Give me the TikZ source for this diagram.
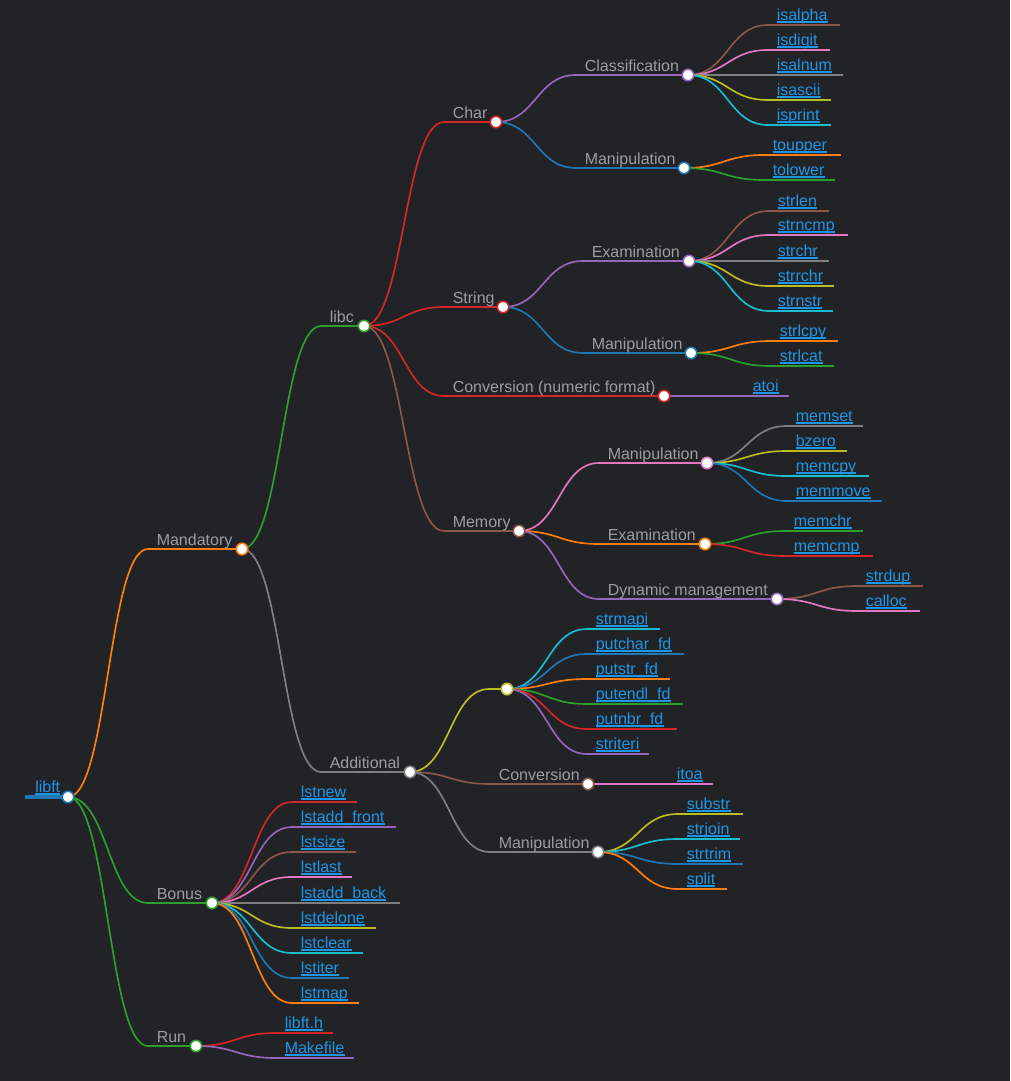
\documentclass[tikz,border=0pt]{standalone}
\usepackage{fontspec}
\setmainfont{Liberation Sans}
\usetikzlibrary{calc}
\definecolor{bg}{RGB}{33,35,39}
\definecolor{cblue}{HTML}{1F77B4}
\definecolor{corange}{HTML}{FF7F0E}
\definecolor{cgreen}{HTML}{2CA02C}
\definecolor{cred}{HTML}{D62728}
\definecolor{cpurple}{HTML}{9467BD}
\definecolor{cbrown}{HTML}{8C564B}
\definecolor{cpink}{HTML}{E377C2}
\definecolor{cgray}{HTML}{7F7F7F}
\definecolor{colive}{HTML}{BCBD22}
\definecolor{ccyan}{HTML}{17BECF}
\definecolor{lbl}{RGB}{155,157,161}
\definecolor{lnk}{RGB}{30,150,230}
\pgfdeclarelayer{fg}
\pgfsetlayers{main,fg}
\tikzset{
  mmline/.style={line width=1.25pt},
  dot/.style={circle, draw, fill=white, line width=1.2pt, minimum size=8.6pt, inner sep=0pt},
  lbltext/.style={text=lbl, font=\fontsize{12}{14}\selectfont, inner sep=0pt, anchor=base west},
  lnktext/.style={text=lnk, font=\fontsize{12}{14}\selectfont, inner sep=0pt, anchor=base west},
  uline/.style={draw=lnk, line width=1pt},
}
\newcommand\mmcurve[3]{%
  \draw[mmline,#1] let \p1=(#2.center), \p2=(#3) in
    (\p1) .. controls ({(\x1+\x2)/2},\y1) and ({(\x1+\x2)/2},\y2) .. (\p2);}
% name, parent, color, startx, y, endx, label
\newcommand\mminner[7]{%
  \begin{pgfonlayer}{fg}\node[dot,draw=#3] (#1) at (#6,#5) {};\end{pgfonlayer}
  \coordinate (#1-s) at (#4,#5);
  \mmcurve{#3}{#2}{#1-s}
  \draw[mmline,#3] (#1-s) -- (#1.center);
  \node[lbltext] (#1-t) at ({#4+8.5},{#5-4}) {#7};}
\newcommand\mmleaf[7]{%
  \coordinate (#1-s) at (#4,#5);
  \coordinate (#1-e) at (#6,#5);
  \mmcurve{#3}{#2}{#1-s}
  \draw[mmline,#3] (#1-s) -- (#1-e);
  \node[lnktext] (#1) at ({#4+8.5},{#5-4.4}) {#7};
  \draw[uline] ([yshift=-1.0pt]#1.base west) -- ([yshift=-1.0pt]#1.base east);}
\begin{document}
\begin{tikzpicture}[x=0.75pt,y=-0.75pt]
\useasboundingbox[fill=bg] (0,0) rectangle (1010,1081);
% root
\begin{pgfonlayer}{fg}\node[dot,draw=cblue] (root) at (68,797) {};\end{pgfonlayer}
\coordinate (root-s) at (25,797);
\draw[line width=3pt,cblue] (root-s) -- (root.center);
\node[lnktext] (root-t) at (35,792.5) {libft};
\draw[uline] ([yshift=-1.0pt]root-t.base west) -- ([yshift=-1.0pt]root-t.base east);
% level 1
\mminner{mand}{root}{corange}{148}{549}{242}{Mandatory}
\mminner{bonus}{root}{cgreen}{148}{903}{212}{Bonus}
\mminner{run}{root}{cgreen}{148}{1046}{196}{Run}
% level 2
\mminner{libc}{mand}{cgreen}{321}{326}{364}{libc}
\mminner{add}{mand}{cgray}{321}{772}{410}{Additional}
% libc
\mminner{char}{libc}{cred}{444}{122}{496}{Char}
\mminner{string}{libc}{cred}{444}{307}{503}{String}
\mminner{conv}{libc}{cred}{444}{396}{664}{Conversion (numeric format)}
\mminner{mem}{libc}{cbrown}{444}{531}{519}{Memory}
% char
\mminner{cls}{char}{cpurple}{576}{75}{688}{Classification}
\mminner{cman}{char}{cblue}{576}{168}{684}{Manipulation}
\mmleaf{isalpha}{cls}{cbrown}{768}{25}{840}{isalpha}
\mmleaf{isdigit}{cls}{cpink}{768}{50}{830}{isdigit}
\mmleaf{isalnum}{cls}{cgray}{768}{75}{843}{isalnum}
\mmleaf{isascii}{cls}{colive}{768}{100}{831}{isascii}
\mmleaf{isprint}{cls}{ccyan}{768}{125}{831}{isprint}
\mmleaf{toupper}{cman}{corange}{764}{155}{841}{toupper}
\mmleaf{tolower}{cman}{cgreen}{764}{180}{835}{tolower}
% string
\mminner{sexam}{string}{cpurple}{583}{261}{689}{Examination}
\mminner{sman}{string}{cblue}{583}{353}{691}{Manipulation}
\mmleaf{strlen}{sexam}{cbrown}{769}{211}{829}{strlen}
\mmleaf{strncmp}{sexam}{cpink}{769}{235}{848}{strncmp}
\mmleaf{strchr}{sexam}{cgray}{769}{261}{829}{strchr}
\mmleaf{strrchr}{sexam}{colive}{769}{286}{834}{strrchr}
\mmleaf{strnstr}{sexam}{ccyan}{769}{311}{833}{strnstr}
\mmleaf{strlcpy}{sman}{corange}{771}{341}{838}{strlcpy}
\mmleaf{strlcat}{sman}{cgreen}{771}{366}{834}{strlcat}
% conversion
\mmleaf{atoi}{conv}{cpurple}{744}{396}{789}{atoi}
% memory
\mminner{mman}{mem}{cpink}{599}{463}{707}{Manipulation}
\mminner{mexam}{mem}{corange}{599}{544}{705}{Examination}
\mminner{mdyn}{mem}{cpurple}{599}{599}{777}{Dynamic management}
\mmleaf{memset}{mman}{cgray}{787}{426}{863}{memset}
\mmleaf{bzero}{mman}{colive}{787}{451}{847}{bzero}
\mmleaf{memcpy}{mman}{ccyan}{787}{476}{869}{memcpy}
\mmleaf{memmove}{mman}{cblue}{787}{501}{882}{memmove}
\mmleaf{memchr}{mexam}{cgreen}{785}{531}{863}{memchr}
\mmleaf{memcmp}{mexam}{cred}{785}{556}{873}{memcmp}
\mmleaf{strdup}{mdyn}{cbrown}{857}{586}{923}{strdup}
\mmleaf{calloc}{mdyn}{cpink}{857}{611}{920}{calloc}
% additional
\mminner{anon}{add}{colive}{489}{689}{507}{}
\mminner{aconv}{add}{cbrown}{490}{784}{588}{Conversion}
\mminner{aman}{add}{cgray}{490}{852}{598}{Manipulation}
\mmleaf{strmapi}{anon}{ccyan}{587}{629}{660}{strmapi}
\mmleaf{putcharfd}{anon}{cblue}{587}{654}{684}{putchar\_fd}
\mmleaf{putstrfd}{anon}{corange}{587}{679}{670}{putstr\_fd}
\mmleaf{putendlfd}{anon}{cgreen}{587}{704}{683}{putendl\_fd}
\mmleaf{putnbrfd}{anon}{cred}{587}{729}{677}{putnbr\_fd}
\mmleaf{striteri}{anon}{cpurple}{587}{754}{649}{striteri}
\mmleaf{itoa}{aconv}{cpink}{668}{784}{713}{itoa}
\mmleaf{substr}{aman}{colive}{678}{814}{743}{substr}
\mmleaf{strjoin}{aman}{ccyan}{678}{839}{740}{strjoin}
\mmleaf{strtrim}{aman}{cblue}{678}{864}{743}{strtrim}
\mmleaf{split}{aman}{corange}{678}{889}{727}{split}
% bonus
\mmleaf{lstnew}{bonus}{cred}{292}{802}{357}{lstnew}
\mmleaf{lstaddfront}{bonus}{cpurple}{292}{827}{396}{lstadd\_front}
\mmleaf{lstsize}{bonus}{cbrown}{292}{852}{356}{lstsize}
\mmleaf{lstlast}{bonus}{cpink}{292}{877}{352}{lstlast}
\mmleaf{lstaddback}{bonus}{cgray}{292}{903}{400}{lstadd\_back}
\mmleaf{lstdelone}{bonus}{colive}{292}{928}{376}{lstdelone}
\mmleaf{lstclear}{bonus}{ccyan}{292}{953}{363}{lstclear}
\mmleaf{lstiter}{bonus}{cblue}{292}{978}{349}{lstiter}
\mmleaf{lstmap}{bonus}{corange}{292}{1003}{359}{lstmap}
% run
\mmleaf{libfth}{run}{cred}{276}{1033}{333}{libft.h}
\mmleaf{makefile}{run}{cpurple}{276}{1058}{354}{Makefile}
\end{tikzpicture}
\end{document}
